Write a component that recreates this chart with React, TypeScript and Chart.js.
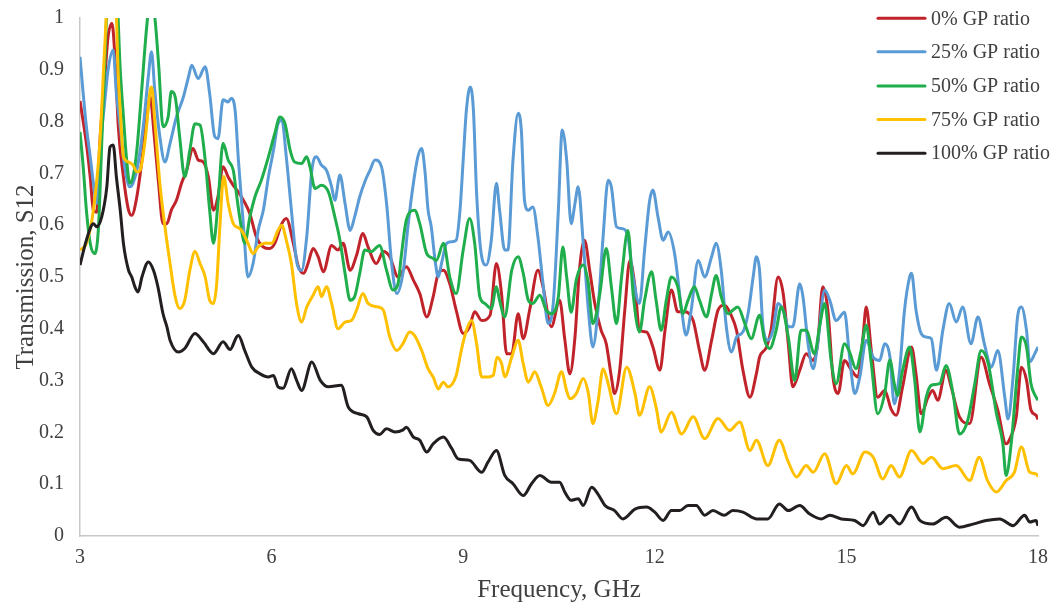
import React, { useEffect, useRef } from "react";
import { Chart, registerables } from "chart.js";

Chart.register(...registerables);

const seriesNames = ["0% GP ratio", "25% GP ratio", "50% GP ratio", "75% GP ratio", "100% GP ratio"];
const seriesColors = ["#C1232B", "#5B9BD5", "#1FAE4B", "#FFC000", "#231F20"];
const xTicks = [3, 6, 9, 12, 15, 18];

const redF = [3.00,3.05,3.10,3.16,3.21,3.26,3.31,3.39,3.44,3.50,3.55,3.60,3.68,3.76,3.81,3.89,3.97,4.04,4.10,4.15,4.23,4.30,4.36,4.43,4.51,4.59,4.67,4.77,4.85,4.93,5.01,5.09,5.16,5.24,5.32,5.40,5.48,5.56,5.66,5.76,5.87,5.97,6.05,6.16,6.23,6.34,6.42,6.50,6.57,6.65,6.73,6.81,6.94,7.04,7.12,7.23,7.33,7.43,7.51,7.64,7.75,7.85,7.98,8.11,8.22,8.32,8.43,8.53,8.61,8.69,8.79,8.89,9.00,9.10,9.18,9.29,9.42,9.52,9.60,9.68,9.76,9.86,9.94,10.04,10.17,10.25,10.38,10.51,10.59,10.67,10.75,10.82,10.90,10.98,11.06,11.16,11.24,11.32,11.37,11.45,11.53,11.61,11.69,11.76,11.87,11.97,12.08,12.16,12.26,12.36,12.47,12.60,12.70,12.78,12.89,12.99,13.09,13.20,13.28,13.38,13.49,13.59,13.64,13.75,13.82,13.93,14.01,14.09,14.16,14.27,14.37,14.48,14.55,14.63,14.71,14.79,14.87,14.97,15.08,15.18,15.26,15.31,15.39,15.49,15.60,15.70,15.78,15.88,16.02,16.09,16.17,16.28,16.35,16.43,16.56,16.64,16.77,16.93,17.11,17.24,17.37,17.50,17.55,17.66,17.74,17.82,17.89,17.97,18.00];
const redV = [0.84,0.80,0.758,0.693,0.629,0.625,0.758,0.887,0.964,0.990,0.919,0.790,0.693,0.629,0.619,0.655,0.726,0.803,0.848,0.790,0.681,0.603,0.603,0.629,0.648,0.681,0.706,0.748,0.726,0.722,0.693,0.629,0.655,0.713,0.693,0.677,0.664,0.648,0.622,0.578,0.558,0.555,0.565,0.603,0.613,0.565,0.520,0.507,0.526,0.555,0.539,0.510,0.561,0.552,0.565,0.513,0.542,0.584,0.558,0.526,0.549,0.539,0.500,0.520,0.494,0.468,0.423,0.462,0.507,0.513,0.487,0.436,0.391,0.404,0.433,0.416,0.426,0.526,0.468,0.352,0.352,0.429,0.381,0.436,0.513,0.481,0.404,0.455,0.380,0.313,0.384,0.513,0.571,0.513,0.449,0.397,0.371,0.307,0.275,0.320,0.436,0.532,0.481,0.397,0.394,0.365,0.320,0.397,0.475,0.433,0.433,0.416,0.358,0.320,0.378,0.436,0.446,0.425,0.397,0.320,0.268,0.313,0.345,0.365,0.397,0.500,0.468,0.371,0.288,0.320,0.352,0.339,0.371,0.481,0.436,0.307,0.275,0.339,0.320,0.307,0.384,0.442,0.358,0.268,0.281,0.245,0.233,0.288,0.365,0.313,0.236,0.268,0.281,0.262,0.320,0.288,0.230,0.217,0.345,0.294,0.243,0.178,0.185,0.230,0.326,0.301,0.243,0.233,0.225];

const blueF = [3.00,3.05,3.10,3.16,3.21,3.26,3.31,3.39,3.44,3.52,3.57,3.63,3.70,3.78,3.83,3.91,3.99,4.07,4.12,4.17,4.25,4.33,4.41,4.51,4.62,4.70,4.75,4.85,4.96,5.03,5.11,5.16,5.24,5.32,5.37,5.43,5.48,5.56,5.63,5.71,5.79,5.87,5.95,6.03,6.10,6.16,6.23,6.31,6.39,6.47,6.55,6.63,6.70,6.78,6.86,6.94,6.99,7.07,7.15,7.23,7.30,7.38,7.46,7.54,7.62,7.72,7.80,7.88,7.96,8.06,8.14,8.22,8.29,8.35,8.40,8.45,8.50,8.56,8.61,8.66,8.74,8.82,8.89,8.95,9.00,9.05,9.11,9.16,9.21,9.29,9.36,9.44,9.52,9.57,9.65,9.70,9.78,9.86,9.91,9.96,10.02,10.09,10.17,10.25,10.33,10.41,10.49,10.55,10.62,10.69,10.75,10.80,10.88,10.96,11.03,11.11,11.19,11.27,11.32,11.40,11.50,11.58,11.66,11.76,11.84,11.92,11.97,12.05,12.13,12.21,12.31,12.42,12.49,12.57,12.68,12.78,12.89,12.96,13.04,13.12,13.20,13.28,13.38,13.46,13.54,13.59,13.64,13.69,13.77,13.85,13.93,14.01,14.09,14.16,14.27,14.32,14.40,14.48,14.55,14.66,14.74,14.84,14.97,15.05,15.13,15.21,15.31,15.42,15.52,15.60,15.68,15.75,15.83,15.91,15.99,16.02,16.09,16.17,16.25,16.33,16.41,16.51,16.61,16.72,16.82,16.95,17.06,17.16,17.27,17.37,17.48,17.53,17.61,17.68,17.74,17.82,17.87,17.95,18.00];
const blueV = [0.925,0.854,0.790,0.732,0.681,0.642,0.738,0.842,0.900,0.938,0.854,0.790,0.713,0.674,0.681,0.719,0.790,0.887,0.935,0.861,0.771,0.722,0.758,0.809,0.848,0.887,0.909,0.883,0.906,0.854,0.771,0.767,0.842,0.838,0.845,0.820,0.726,0.597,0.500,0.526,0.590,0.629,0.693,0.745,0.796,0.803,0.732,0.629,0.532,0.513,0.578,0.706,0.732,0.716,0.706,0.674,0.648,0.697,0.642,0.590,0.616,0.655,0.684,0.706,0.726,0.713,0.642,0.526,0.468,0.510,0.603,0.681,0.732,0.748,0.706,0.629,0.597,0.532,0.500,0.526,0.565,0.568,0.571,0.629,0.726,0.822,0.867,0.822,0.661,0.539,0.523,0.571,0.681,0.629,0.552,0.552,0.726,0.816,0.784,0.648,0.629,0.635,0.577,0.487,0.410,0.449,0.629,0.784,0.726,0.603,0.642,0.674,0.565,0.436,0.365,0.436,0.577,0.687,0.674,0.597,0.593,0.577,0.500,0.449,0.552,0.648,0.668,0.616,0.571,0.587,0.545,0.436,0.388,0.436,0.532,0.500,0.539,0.565,0.513,0.404,0.355,0.384,0.394,0.429,0.500,0.539,0.513,0.410,0.378,0.397,0.449,0.436,0.404,0.404,0.487,0.462,0.371,0.323,0.371,0.475,0.455,0.416,0.432,0.345,0.275,0.307,0.378,0.345,0.339,0.371,0.347,0.255,0.315,0.436,0.500,0.507,0.436,0.391,0.384,0.381,0.320,0.397,0.449,0.413,0.442,0.371,0.423,0.371,0.326,0.358,0.268,0.226,0.307,0.423,0.442,0.397,0.336,0.352,0.365];

const greenF = [3.00,3.05,3.10,3.16,3.23,3.29,3.34,3.39,3.44,3.57,3.63,3.68,3.73,3.78,3.83,3.89,3.97,4.04,4.10,4.17,4.23,4.30,4.38,4.43,4.49,4.56,4.64,4.72,4.80,4.88,4.96,5.03,5.09,5.16,5.24,5.32,5.40,5.45,5.50,5.58,5.66,5.74,5.84,5.95,6.05,6.13,6.21,6.29,6.36,6.47,6.55,6.60,6.68,6.78,6.89,6.99,7.07,7.15,7.23,7.30,7.38,7.46,7.56,7.69,7.80,7.90,7.98,8.03,8.11,8.24,8.32,8.43,8.53,8.58,8.69,8.79,8.89,9.00,9.10,9.18,9.26,9.34,9.44,9.52,9.57,9.65,9.76,9.86,9.94,10.02,10.09,10.20,10.30,10.38,10.49,10.56,10.62,10.69,10.77,10.88,10.96,11.03,11.14,11.24,11.32,11.40,11.48,11.58,11.66,11.76,11.84,11.95,12.02,12.10,12.18,12.26,12.36,12.44,12.52,12.62,12.70,12.81,12.89,12.96,13.04,13.15,13.22,13.30,13.41,13.51,13.64,13.72,13.80,13.90,13.98,14.09,14.19,14.29,14.37,14.50,14.58,14.66,14.76,14.84,14.97,15.05,15.15,15.23,15.31,15.39,15.49,15.60,15.68,15.75,15.80,15.88,15.99,16.07,16.15,16.25,16.33,16.46,16.56,16.67,16.77,16.90,17.01,17.11,17.22,17.35,17.45,17.50,17.58,17.68,17.74,17.82,17.89,17.97,18.00];
const greenV = [0.780,0.713,0.629,0.565,0.545,0.597,0.758,0.919,1.05,1.05,0.900,0.809,0.726,0.681,0.693,0.745,0.867,0.977,1.04,1.003,0.912,0.790,0.809,0.858,0.848,0.771,0.693,0.745,0.796,0.793,0.726,0.629,0.565,0.642,0.758,0.726,0.706,0.660,0.616,0.565,0.616,0.655,0.687,0.732,0.777,0.809,0.796,0.745,0.722,0.719,0.732,0.713,0.671,0.677,0.664,0.616,0.571,0.507,0.455,0.462,0.507,0.552,0.549,0.561,0.513,0.475,0.487,0.540,0.610,0.629,0.603,0.545,0.536,0.532,0.565,0.500,0.468,0.552,0.613,0.565,0.462,0.449,0.439,0.481,0.455,0.423,0.513,0.539,0.507,0.455,0.449,0.465,0.436,0.429,0.462,0.558,0.500,0.432,0.494,0.523,0.487,0.410,0.468,0.555,0.481,0.410,0.500,0.590,0.468,0.394,0.455,0.510,0.455,0.397,0.455,0.500,0.481,0.429,0.455,0.481,0.455,0.423,0.468,0.503,0.462,0.429,0.436,0.442,0.410,0.381,0.426,0.378,0.362,0.397,0.442,0.384,0.300,0.397,0.397,0.352,0.404,0.449,0.339,0.294,0.371,0.355,0.323,0.358,0.407,0.333,0.236,0.275,0.340,0.294,0.271,0.320,0.365,0.300,0.201,0.268,0.291,0.294,0.329,0.275,0.197,0.223,0.294,0.358,0.333,0.236,0.178,0.117,0.178,0.320,0.384,0.365,0.294,0.268,0.262];

const yellowF = [3.00,3.10,3.21,3.31,3.39,3.44,3.55,3.60,3.63,3.68,3.76,3.83,3.89,3.94,4.02,4.10,4.12,4.17,4.25,4.33,4.41,4.49,4.56,4.64,4.72,4.80,4.88,4.96,5.03,5.09,5.14,5.19,5.25,5.32,5.40,5.48,5.53,5.63,5.71,5.79,5.90,6.00,6.10,6.16,6.23,6.31,6.39,6.47,6.55,6.65,6.73,6.78,6.86,6.94,7.04,7.15,7.25,7.33,7.43,7.51,7.67,7.75,7.85,7.96,8.06,8.16,8.24,8.35,8.45,8.53,8.61,8.69,8.76,8.89,8.97,9.05,9.13,9.21,9.29,9.39,9.47,9.53,9.60,9.65,9.76,9.86,9.94,10.02,10.12,10.22,10.33,10.43,10.54,10.62,10.67,10.77,10.88,10.96,11.03,11.11,11.19,11.27,11.40,11.56,11.69,11.76,11.92,12.02,12.10,12.26,12.42,12.60,12.78,12.99,13.17,13.33,13.49,13.59,13.77,13.95,14.09,14.22,14.37,14.48,14.66,14.84,15.00,15.10,15.29,15.42,15.57,15.70,15.83,16.02,16.20,16.33,16.51,16.72,16.93,17.08,17.21,17.35,17.50,17.63,17.74,17.87,17.97,18.00];
const yellowV = [0.552,0.565,0.629,0.758,0.951,1.05,1.05,0.887,0.822,0.732,0.722,0.716,0.703,0.706,0.764,0.861,0.867,0.803,0.681,0.597,0.526,0.462,0.439,0.455,0.513,0.549,0.526,0.500,0.455,0.449,0.487,0.597,0.694,0.642,0.603,0.595,0.590,0.565,0.545,0.558,0.565,0.565,0.590,0.600,0.571,0.526,0.449,0.413,0.442,0.465,0.481,0.462,0.481,0.449,0.400,0.413,0.416,0.436,0.468,0.449,0.442,0.436,0.384,0.358,0.372,0.394,0.387,0.358,0.323,0.307,0.284,0.297,0.288,0.310,0.358,0.397,0.416,0.371,0.307,0.307,0.310,0.345,0.333,0.307,0.345,0.378,0.333,0.297,0.317,0.288,0.252,0.275,0.317,0.280,0.265,0.275,0.304,0.275,0.217,0.259,0.323,0.294,0.236,0.326,0.275,0.233,0.288,0.249,0.201,0.239,0.197,0.230,0.188,0.227,0.204,0.220,0.165,0.185,0.136,0.185,0.143,0.114,0.136,0.123,0.159,0.101,0.136,0.120,0.162,0.152,0.110,0.136,0.114,0.165,0.140,0.152,0.130,0.136,0.107,0.152,0.107,0.085,0.107,0.123,0.172,0.123,0.120,0.115];

const blackF = [3.00,3.10,3.21,3.26,3.34,3.42,3.47,3.52,3.57,3.63,3.68,3.76,3.81,3.86,3.91,3.97,4.07,4.15,4.22,4.30,4.36,4.41,4.54,4.64,4.80,4.93,5.09,5.24,5.35,5.45,5.48,5.58,5.69,5.82,5.95,6.03,6.10,6.18,6.31,6.39,6.47,6.63,6.76,6.89,7.09,7.20,7.36,7.49,7.59,7.69,7.80,7.93,8.06,8.11,8.22,8.32,8.43,8.53,8.69,8.82,8.92,9.10,9.29,9.39,9.52,9.65,9.78,9.94,10.07,10.20,10.38,10.51,10.59,10.69,10.80,10.88,11.01,11.11,11.22,11.37,11.50,11.69,11.87,12.00,12.13,12.26,12.39,12.52,12.65,12.78,12.91,13.09,13.22,13.38,13.59,13.77,13.95,14.09,14.27,14.42,14.61,14.74,14.92,15.13,15.26,15.42,15.52,15.68,15.83,16.02,16.15,16.35,16.56,16.77,16.98,17.19,17.40,17.61,17.79,17.87,17.97,18.00];
const blackV = [0.523,0.571,0.603,0.597,0.616,0.674,0.751,0.755,0.693,0.629,0.565,0.513,0.500,0.481,0.471,0.500,0.529,0.513,0.481,0.429,0.404,0.378,0.355,0.362,0.391,0.375,0.352,0.375,0.360,0.384,0.387,0.358,0.326,0.313,0.307,0.310,0.288,0.285,0.323,0.301,0.281,0.336,0.301,0.288,0.291,0.249,0.236,0.230,0.204,0.196,0.207,0.201,0.205,0.210,0.191,0.185,0.162,0.178,0.191,0.169,0.149,0.146,0.123,0.143,0.165,0.117,0.101,0.078,0.101,0.117,0.104,0.104,0.085,0.069,0.072,0.059,0.094,0.081,0.059,0.049,0.033,0.052,0.056,0.046,0.030,0.049,0.049,0.059,0.059,0.040,0.049,0.040,0.049,0.046,0.033,0.033,0.062,0.049,0.059,0.043,0.033,0.040,0.033,0.030,0.020,0.046,0.023,0.040,0.023,0.056,0.030,0.023,0.036,0.017,0.023,0.030,0.033,0.020,0.040,0.027,0.030,0.020];

const seriesF = [redF, blueF, greenF, yellowF, blackF];
const seriesV = [redV, blueV, greenV, yellowV, blackV];

const FONT = "'Liberation Serif', 'Times New Roman', serif";
const TEXT = "#404040";

const legendPlugin = {
  id: "customLegend",
  afterDraw(chart: any) {
    const ctx = chart.ctx;
    ctx.save();
    const rows = [18.3, 51.8, 86, 119.4, 153.2];
    ctx.font = `20px ${FONT}`;
    ctx.textBaseline = "middle";
    ctx.textAlign = "left";
    seriesNames.forEach((name, i) => {
      const y = rows[i];
      ctx.strokeStyle = seriesColors[i];
      ctx.lineWidth = 3;
      ctx.lineCap = "round";
      ctx.beginPath();
      ctx.moveTo(878, y);
      ctx.lineTo(925, y);
      ctx.stroke();
      ctx.fillStyle = TEXT;
      ctx.fillText(name, 931, y + 1);
    });
    ctx.restore();
  },
};

export default function App() {
  const ref = useRef<HTMLCanvasElement | null>(null);
  useEffect(() => {
    if (!ref.current) return;
    const datasets = seriesNames.map((name, i) => ({
      label: name,
      data: seriesF[i].map((f, j) => ({ x: f, y: seriesV[i][j] })),
      borderColor: seriesColors[i],
      backgroundColor: seriesColors[i],
      borderWidth: 3,
      pointRadius: 0,
      pointHoverRadius: 0,
      cubicInterpolationMode: "monotone" as const,
      fill: false,
      order: 5 - i,
    }));
    const chart = new Chart(ref.current, {
      type: "line",
      data: { datasets },
      options: {
        animation: false,
        responsive: false,
        maintainAspectRatio: false,
        layout: { padding: { left: 0, right: 19, top: 18, bottom: 0 } },
        plugins: { legend: { display: false }, tooltip: { enabled: false } },
        scales: {
          x: {
            type: "linear",
            min: 3,
            max: 18,
            afterBuildTicks: (s: any) => {
              s.ticks = xTicks.map((v) => ({ value: v }));
            },
            ticks: { padding: 10, color: TEXT, font: { family: FONT, size: 20 } },
            grid: { display: false, drawTicks: false },
            border: { display: true, color: "#c8c8c8", width: 1.5 },
            title: {
              display: true,
              text: "Frequency, GHz",
              color: TEXT,
              font: { family: FONT, size: 25 },
              padding: { top: 0, bottom: 0 },
            },
            afterFit: (s: any) => {
              s.height = 69;
              s.paddingLeft = 0;
              s.paddingRight = 0;
            },
          },
          y: {
            min: 0,
            max: 1,
            ticks: {
              stepSize: 0.1,
              padding: 16,
              color: TEXT,
              font: { family: FONT, size: 20 },
              callback: (v: any) => String(Math.round(Number(v) * 10) / 10),
            },
            grid: { display: false, drawTicks: false },
            border: { display: true, color: "#c8c8c8", width: 1.5 },
            title: {
              display: true,
              text: "Transmission, S12",
              color: TEXT,
              font: { family: FONT, size: 25 },
              padding: { top: 11, bottom: 0 },
            },
            afterFit: (s: any) => {
              s.width = 80;
              s.paddingTop = 0;
              s.paddingBottom = 0;
            },
          },
        },
      },
      plugins: [legendPlugin],
    });
    return () => chart.destroy();
  }, []);
  return (
    <div style={{ position: "absolute", left: 0, top: 0, width: 1057, height: 605, background: "#fff" }}>
      <canvas ref={ref} width={1057} height={605} style={{ display: "block" }} />
    </div>
  );
}
